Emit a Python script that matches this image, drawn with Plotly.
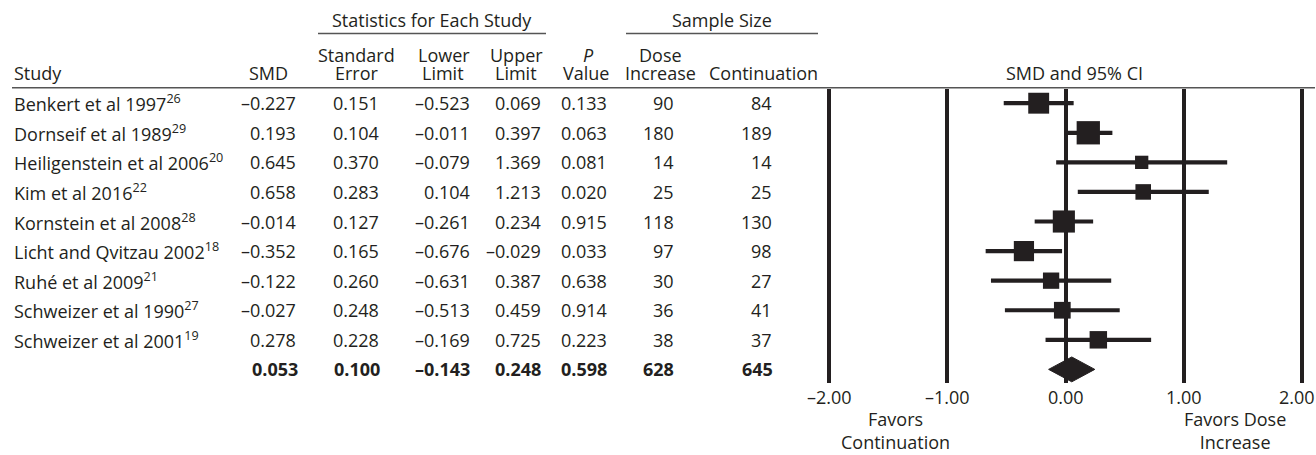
import math
import plotly.graph_objects as go

# ---------------- data ----------------
studies = ["Benkert et al 1997", "Dornseif et al 1989", "Heiligenstein et al 2006",
           "Kim et al 2016", "Kornstein et al 2008", "Licht and Qvitzau 2002",
           "Ruhé et al 2009", "Schweizer et al 1990", "Schweizer et al 2001"]
refs = ["26", "29", "20", "22", "28", "18", "21", "27", "19"]
smd = [-0.227, 0.193, 0.645, 0.658, -0.014, -0.352, -0.122, -0.027, 0.278]
se = [0.151, 0.104, 0.370, 0.283, 0.127, 0.165, 0.260, 0.248, 0.228]
lower = [-0.523, -0.011, -0.079, 0.104, -0.261, -0.676, -0.631, -0.513, -0.169]
upper = [0.069, 0.397, 1.369, 1.213, 0.234, -0.029, 0.387, 0.459, 0.725]
pval = [0.133, 0.063, 0.081, 0.020, 0.915, 0.033, 0.638, 0.914, 0.223]
n_dose = [90, 180, 14, 25, 118, 97, 30, 36, 38]
n_cont = [84, 189, 14, 25, 130, 98, 27, 41, 37]

summary_smd = 0.053
summary_se = 0.100
summary_lower = -0.143
summary_upper = 0.248
summary_p = 0.598
summary_dose = 628
summary_cont = 645

tick_vals = [-2, -1, 0, 1, 2]
tick_text = ["–2.00", "–1.00", "0.00", "1.00", "2.00"]

# ---------------- styling ----------------
W, H = 1316, 455
INK = "#231f20"
FONT = "Open Sans"
FS = 18


def px(x):
    return x / W


def py(y):
    return 1 - y / H


def fmt(v):
    return f"{v:.3f}".replace("-", "–")


n = len(studies)
rows = list(range(n))
sum_row = n

fig = go.Figure()

# study markers with CI
tau2 = 0.03
sizes = [4 * math.sqrt(1 / (s * s + tau2)) + 3.5 for s in se]
fig.add_trace(go.Scatter(
    x=smd, y=rows, mode="markers",
    marker=dict(symbol="square", size=sizes, color=INK, opacity=1, line=dict(width=0)),
    error_x=dict(type="data", symmetric=False,
                 array=[u - m for u, m in zip(upper, smd)],
                 arrayminus=[m - l for m, l in zip(smd, lower)],
                 thickness=4.2, width=0, color=INK),
    hoverinfo="skip", showlegend=False, cliponaxis=False,
))

# summary diamond
h = 0.42
fig.add_trace(go.Scatter(
    x=[summary_lower, summary_smd, summary_upper, summary_smd, summary_lower],
    y=[sum_row, sum_row - h, sum_row, sum_row + h, sum_row],
    mode="lines", fill="toself", fillcolor=INK, line=dict(color=INK, width=1),
    hoverinfo="skip", showlegend=False,
))

annotations = []


def ann(text, x, y, xanchor="center", yref="paper", xref="paper", size=FS, **kw):
    annotations.append(dict(text=text, x=x, y=y, xref=xref, yref=yref,
                            xanchor=xanchor, yanchor="middle", showarrow=False,
                            font=dict(family=FONT, size=size, color=INK), **kw))


# table body
col_smd, col_se, col_lo, col_up, col_p, col_d, col_c = 298, 381, 472, 543, 609, 676, 774
for i in rows:
    ann(f"{studies[i]}<sup>{refs[i]}</sup>", px(12), i, "left", yref="y")
    ann(fmt(smd[i]), px(col_smd), i, "right", yref="y")
    ann(fmt(se[i]), px(col_se), i, "right", yref="y")
    ann(fmt(lower[i]), px(col_lo), i, "right", yref="y")
    ann(fmt(upper[i]), px(col_up), i, "right", yref="y")
    ann(fmt(pval[i]), px(col_p), i, "right", yref="y")
    ann(str(n_dose[i]), px(col_d), i, "right", yref="y")
    ann(str(n_cont[i]), px(col_c), i, "right", yref="y")

# summary row (bold)
for v, c in [(fmt(summary_smd), col_smd + 2), (fmt(summary_se), col_se + 1),
             (fmt(summary_lower), col_lo), (fmt(summary_upper), col_up),
             (fmt(summary_p), col_p), (str(summary_dose), col_d),
             (str(summary_cont), col_c + 1)]:
    ann(f"<b>{v}</b>", px(c), sum_row, "right", yref="y")

# headers
yA, yB, yC = 20, 55, 73
ann("Statistics for Each Study", px(432), py(yA))
ann("Sample Size", px(722), py(yA))
ann("Standard", px(357), py(yB))
ann("Lower", px(444), py(yB))
ann("Upper", px(516), py(yB))
ann("<i>P</i>", px(588), py(yB))
ann("Dose", px(660), py(yB))
ann("Study", px(12), py(yC), "left")
ann("SMD", px(290), py(yC), "right")
ann("Error", px(357), py(yC))
ann("Limit", px(443), py(yC))
ann("Limit", px(516), py(yC))
ann("Value", px(586), py(yC))
ann("Increase", px(660), py(yC))
ann("Continuation", px(763), py(yC))
ann("SMD and 95% CI", px(1074), py(yC))

# x-axis tick labels (placed on the data axis)
for k, (tv, tt) in enumerate(zip(tick_vals, tick_text)):
    shift = -5 if k == len(tick_vals) - 1 else 0
    ann(tt, tv, py(397), xref="x", xshift=shift)

# footer labels
ann("Favors<br>Continuation", px(895), py(430))
ann("Favors Dose<br>Increase", px(1235), py(430))

shapes = [
    dict(type="line", xref="paper", yref="paper", x0=px(12), x1=px(1315),
         y0=py(87.7), y1=py(87.7), line=dict(color="#555555", width=1.5)),
    dict(type="line", xref="paper", yref="paper", x0=px(318), x1=px(546),
         y0=py(33.5), y1=py(33.5), line=dict(color="#555555", width=1.5)),
    dict(type="line", xref="paper", yref="paper", x0=px(626), x1=px(818),
         y0=py(33.5), y1=py(33.5), line=dict(color="#555555", width=1.5)),
]

fig.update_layout(
    width=W, height=H,
    margin=dict(l=0, r=0, t=0, b=0, autoexpand=False),
    paper_bgcolor="white", plot_bgcolor="white",
    font=dict(family=FONT, size=FS, color=INK),
    annotations=annotations, shapes=shapes,
    xaxis=dict(domain=[px(822.2), px(1308.8)], range=[-2.06, 2.06],
               tickvals=tick_vals, showticklabels=False, ticks="",
               showgrid=True, gridcolor=INK, gridwidth=4, zeroline=False,
               showline=False, fixedrange=True),
    yaxis=dict(domain=[py(383), py(89.3)], range=[9.46, -0.47],
               showgrid=False, zeroline=False, showticklabels=False,
               showline=False, fixedrange=True),
)

fig.write_html(
    "out.html",
    config={"displayModeBar": False},
    post_script="document.body.style.margin='0px';document.body.style.overflow='hidden';",
)
